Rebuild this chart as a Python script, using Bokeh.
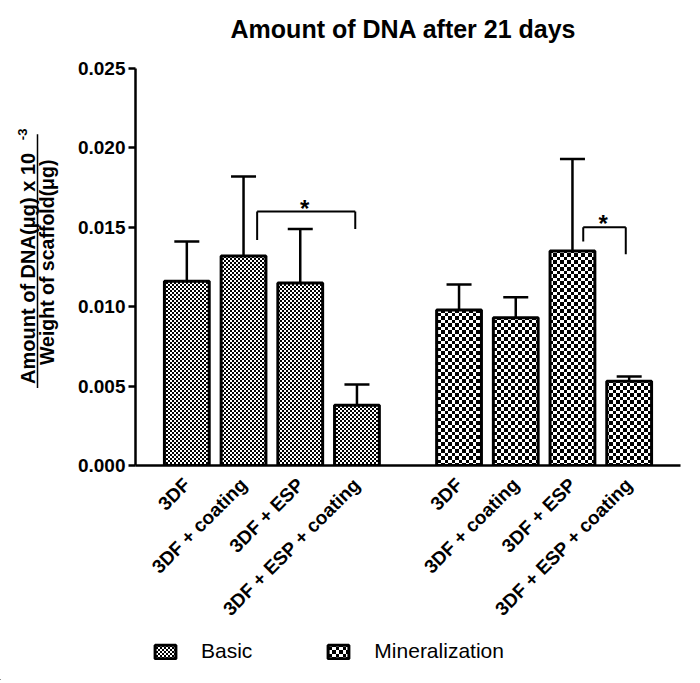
import math, zlib, struct, base64
from bokeh.plotting import figure
from bokeh.layouts import row, column
from bokeh.models import (ColumnDataSource, FactorRange, Range1d, Whisker, TeeHead,
                          Legend, LegendItem, FixedTicker, ImageURLTexture)
from bokeh.core.properties import value
from bokeh.embed import file_html
from bokeh.resources import INLINE

# ---------------- data ----------------
groups = ["Basic", "Mineralization"]
categories = ["3DF", "3DF + coating", "3DF + ESP", "3DF + ESP + coating"]
basic_mean = [0.0116, 0.0132, 0.0115, 0.0038]
basic_sd = [0.0025, 0.0050, 0.0034, 0.0013]
mineral_mean = [0.0098, 0.0093, 0.0135, 0.0053]
mineral_sd = [0.0016, 0.0013, 0.0058, 0.0003]
y_ticks = [0.000, 0.005, 0.010, 0.015, 0.020, 0.025]
y_tick_labels = ["0.000", "0.005", "0.010", "0.015", "0.020", "0.025"]
title_text = "Amount of DNA after 21 days"
ylabel_top = "Amount of DNA(\u03bcg)  x 10"
ylabel_sup = "-3"
ylabel_bottom = "Weight of scaffold(\u03bcg)"
# significance brackets
sig_group = ["Basic", "Mineralization"]
sig_left = ["3DF + coating", "3DF + ESP"]
sig_right = ["3DF + ESP + coating", "3DF + ESP + coating"]
sig_star_cat = ["3DF + ESP", "3DF + ESP"]
sig_top = [0.0160, 0.0150]
sig_left_foot = [0.0142, 0.0141]
sig_right_foot = [0.0149, 0.0133]
sig_text = ["*", "*"]

FONT = "Liberation Sans"

# ---------------- layout constants ----------------
W_TOTAL = 700
W_LAB = 70
H_TITLE = 50
H_MAIN = 580
H_LEG = 50
BORDER_TOP = 18
BORDER_BOTTOM = 163
FRAME_TOP_PAGE = H_TITLE + BORDER_TOP            # 68
FRAME_H = H_MAIN - BORDER_TOP - BORDER_BOTTOM     # 399


# ---------------- checker textures (tiny PNG tiles) ----------------
def checker_png(a, b):
    size = a + b
    raw = bytearray()
    for y in range(size):
        raw.append(0)
        for x in range(size):
            black = (x < a) == (y < a)
            raw += bytes([0, 0, 0, 255]) if black else bytes([255, 255, 255, 255])

    def chunk(kind, data):
        c = struct.pack(">I", len(data)) + kind + data
        return c + struct.pack(">I", zlib.crc32(kind + data) & 0xFFFFFFFF)

    png = b"\x89PNG\r\n\x1a\n"
    png += chunk(b"IHDR", struct.pack(">IIBBBBB", size, size, 8, 6, 0, 0, 0))
    png += chunk(b"IDAT", zlib.compress(bytes(raw)))
    png += chunk(b"IEND", b"")
    return "data:image/png;base64," + base64.b64encode(png).decode()


FINE_URL = checker_png(2, 2)
COARSE_URL = checker_png(4, 3)


def bar_style(name, url):
    return dict(fill_color="white", line_color="black", line_width=3,
                hatch_color="black", hatch_pattern=value(name),
                hatch_extra={name: ImageURLTexture(url=url)})


def clean(fig):
    fig.outline_line_color = None
    fig.grid.grid_line_color = None
    fig.background_fill_color = "white"
    fig.border_fill_color = "white"


def strip(w, h, frame_h=None, top=0, bottom=0):
    fh = h if frame_h is None else frame_h
    f = figure(width=w, height=h, output_backend="svg", toolbar_location=None,
               x_range=Range1d(0, w), y_range=Range1d(0, fh),
               x_axis_location=None, y_axis_location=None,
               min_border=0, min_border_left=0, min_border_right=0,
               min_border_top=top, min_border_bottom=bottom)
    clean(f)
    return f


# ---------------- title strip ----------------
tfig = strip(W_TOTAL, H_TITLE)
tfig.text(x=[403], y=[H_TITLE - 28], text=[title_text], text_font=value(FONT),
          text_font_style="bold", text_font_size="25px", text_align="center",
          text_baseline="middle", text_color="black")

# ---------------- main plot ----------------
factors = [(g, c) for g in groups for c in categories]

p = figure(width=W_TOTAL - W_LAB, height=H_MAIN, output_backend="svg", toolbar_location=None,
           x_range=FactorRange(factors=factors, group_padding=0.8, range_padding=0.405,
                               range_padding_units="absolute"),
           y_range=Range1d(0, 0.025),
           min_border_left=65, min_border_right=20,
           min_border_top=BORDER_TOP, min_border_bottom=BORDER_BOTTOM)
clean(p)

src_b = ColumnDataSource(dict(
    x=[("Basic", c) for c in categories], top=basic_mean,
    upper=[m + s for m, s in zip(basic_mean, basic_sd)], lower=basic_mean))
src_m = ColumnDataSource(dict(
    x=[("Mineralization", c) for c in categories], top=mineral_mean,
    upper=[m + s for m, s in zip(mineral_mean, mineral_sd)], lower=mineral_mean))

for src in (src_b, src_m):
    p.add_layout(Whisker(source=src, base="x", upper="upper", lower="lower", dimension="height",
                         line_color="black", line_width=2.5, level="underlay",
                         upper_head=TeeHead(size=25, line_color="black", line_width=2.5),
                         lower_head=None))

rb = p.vbar(x="x", top="top", width=0.79, source=src_b, **bar_style("finechecker", FINE_URL))
rm = p.vbar(x="x", top="top", width=0.79, source=src_m, **bar_style("coarsechecker", COARSE_URL))

left_off = [0.24, 0.19]
right_off = [-0.03, -0.06]
star_off = [0.08, 0.54]
star_dy = [-3, -4]
for i in range(len(sig_group)):
    g = sig_group[i]
    xl = (g, sig_left[i], left_off[i])
    xr = (g, sig_right[i], right_off[i])
    p.segment(x0=[xl, xr, xl], y0=[sig_left_foot[i], sig_right_foot[i], sig_top[i]],
              x1=[xl, xr, xr], y1=[sig_top[i], sig_top[i], sig_top[i]],
              line_color="black", line_width=2)
    p.text(x=[(g, sig_star_cat[i], star_off[i])], y=[sig_top[i]], text=[sig_text[i]],
           text_font=value(FONT), text_font_style="bold", text_font_size="24px",
           text_align="center", text_baseline="alphabetic", y_offset=star_dy[i],
           text_color="black")

xa = p.xaxis[0]
xa.major_tick_line_color = None
xa.minor_tick_line_color = None
xa.axis_line_width = 2.5
xa.axis_line_color = "black"
xa.major_label_orientation = math.pi / 4
xa.major_label_text_font = FONT
xa.major_label_text_font_style = "bold"
xa.major_label_text_font_size = "19px"
xa.major_label_text_color = "black"
xa.major_label_standoff = 10
xa.group_text_font_size = "0px"
xa.group_text_color = None
xa.separator_line_color = None

ya = p.yaxis[0]
ya.ticker = FixedTicker(ticks=y_ticks)
ya.major_label_overrides = {t: l for t, l in zip(y_ticks, y_tick_labels)}
ya.axis_line_width = 2.5
ya.axis_line_color = "black"
ya.major_tick_line_width = 2.5
ya.major_tick_out = 7
ya.major_tick_in = 0
ya.minor_tick_line_color = None
ya.major_label_text_font = FONT
ya.major_label_text_font_style = "bold"
ya.major_label_text_font_size = "19px"
ya.major_label_text_color = "black"
ya.major_label_standoff = 3

# ---------------- y-label strip (fraction) ----------------
# its frame is aligned with the main frame (page y 68 .. 467)
lab = strip(W_LAB, H_MAIN, frame_h=FRAME_H, top=BORDER_TOP, bottom=BORDER_BOTTOM)


def py(page_y):
    return FRAME_TOP_PAGE + FRAME_H - page_y


lab.text(x=[27.5], y=[py(385)], text=[ylabel_top], angle=math.pi / 2,
         text_font=value(FONT), text_font_style="bold", text_font_size="20px",
         text_align="left", text_baseline="alphabetic", text_color="black")
lab.text(x=[21.5], y=[py(140)], text=[ylabel_sup], angle=math.pi / 2,
         text_font=value(FONT), text_font_style="bold", text_font_size="13px",
         text_align="left", text_baseline="alphabetic", text_color="black")
lab.text(x=[46.5], y=[py(366)], text=[ylabel_bottom], angle=math.pi / 2,
         text_font=value(FONT), text_font_style="bold", text_font_size="19.5px",
         text_align="left", text_baseline="alphabetic", text_color="black")
lab.segment(x0=[37], y0=[py(389)], x1=[37], y1=[py(134)], line_color="black", line_width=1.5)

# ---------------- legend strip ----------------
leg = strip(W_TOTAL, H_LEG)
proxy = dict(x=[-10000], top=[0])
pb = leg.vbar(x="x", top="top", width=1, source=ColumnDataSource(proxy),
              **bar_style("finechecker", FINE_URL))
pm = leg.vbar(x="x", top="top", width=1, source=ColumnDataSource(proxy),
              **bar_style("coarsechecker", COARSE_URL))
legend = Legend(items=[LegendItem(label=groups[0], renderers=[pb]),
                       LegendItem(label=groups[1], renderers=[pm])],
                orientation="horizontal", location=(152, 17),
                glyph_width=26, glyph_height=17, label_standoff=23, spacing=73,
                padding=0, margin=0, border_line_color=None, background_fill_alpha=0,
                label_text_font=FONT, label_text_font_size="21px", label_text_color="black",
                label_text_baseline="middle")
leg.add_layout(legend, "center")

layout = column(tfig, row(lab, p, spacing=0), leg, spacing=0)
open("out.html", "w").write(file_html(layout, INLINE))
